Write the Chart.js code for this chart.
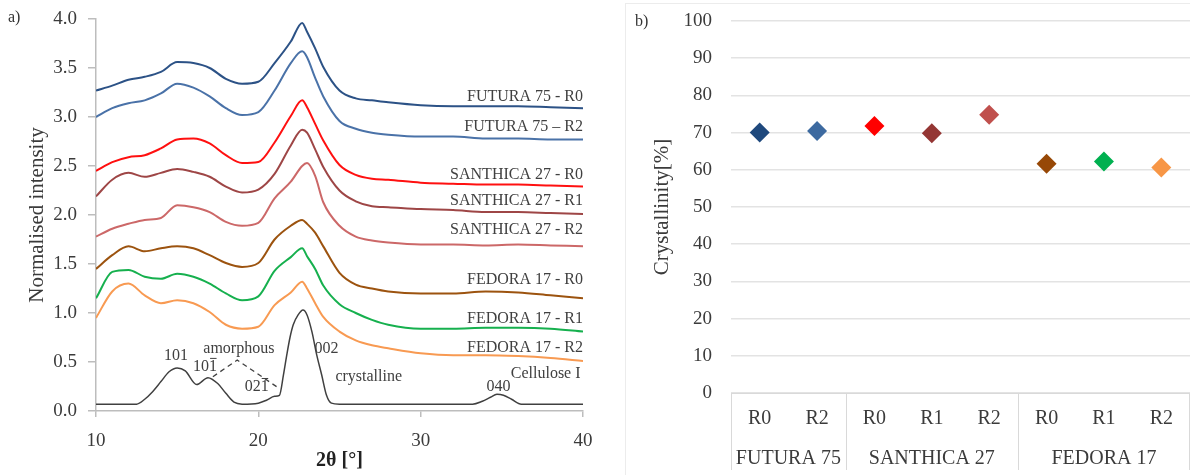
<!DOCTYPE html>
<html lang="en">
<head>
<meta charset="UTF-8">
<script src="https://cdn.jsdelivr.net/npm/chart.js"></script>
<title>XRD patterns and crystallinity</title>
<style>
    html, body { margin: 0; padding: 0; background: #fff; }
    .panel { position: absolute; top: 0; height: 475px; }
    #panelA { left: 0; width: 600px; }
    #panelB { left: 600px; width: 590px; }
    #frameB { position: absolute; left: 625px; top: 3px; width: 570px; height: 480px;
              border-left: 1px solid #ececec; border-top: 1px solid #ececec; }
    .tag { position: absolute; font-family: "Liberation Serif", serif; font-size: 16px; color: #333; }
</style>
</head>
<body>
<div id="frameB"></div>
<div class="panel" id="panelA"><canvas id="xrdChart" width="600" height="475"></canvas></div>
<div class="panel" id="panelB"><canvas id="crystChart" width="590" height="475"></canvas></div>
<div class="tag" style="left:8px; top:8px;">a)</div>
<div class="tag" style="left:635px; top:12px;">b)</div>
<script>
    // ---- a) XRD patterns (values read off the figure) ----
    const theta = [10, 11, 12, 13, 14, 15, 16, 17, 18, 19, 20, 21, 22, 22.7, 23, 23.5, 24, 25, 26, 27, 28, 30, 32, 34, 36, 38, 40];
    const futura75R0   = [3.27, 3.32, 3.38, 3.41, 3.46, 3.56, 3.55, 3.50, 3.39, 3.34, 3.36, 3.55, 3.77, 3.96, 3.87, 3.70, 3.51, 3.27, 3.19, 3.17, 3.15, 3.12, 3.11, 3.11, 3.11, 3.10, 3.09];
    const futura75R2   = [3.00, 3.09, 3.14, 3.17, 3.24, 3.34, 3.30, 3.21, 3.09, 3.02, 3.05, 3.27, 3.55, 3.67, 3.61, 3.40, 3.21, 2.96, 2.88, 2.84, 2.82, 2.80, 2.80, 2.78, 2.78, 2.77, 2.77];
    const santhica27R0 = [2.45, 2.54, 2.59, 2.61, 2.68, 2.77, 2.78, 2.73, 2.61, 2.53, 2.54, 2.74, 3.01, 3.17, 3.10, 2.93, 2.76, 2.51, 2.41, 2.37, 2.36, 2.33, 2.32, 2.31, 2.31, 2.30, 2.29];
    const santhica27R1 = [2.19, 2.36, 2.43, 2.39, 2.43, 2.47, 2.44, 2.39, 2.29, 2.23, 2.26, 2.42, 2.71, 2.87, 2.84, 2.67, 2.49, 2.25, 2.14, 2.09, 2.08, 2.06, 2.05, 2.03, 2.03, 2.02, 2.01];
    const santhica27R2 = [1.78, 1.86, 1.91, 1.95, 1.97, 2.10, 2.08, 2.03, 1.93, 1.89, 1.92, 2.17, 2.34, 2.50, 2.53, 2.40, 2.13, 1.89, 1.78, 1.74, 1.72, 1.70, 1.70, 1.69, 1.70, 1.69, 1.68];
    const fedora17R0   = [1.45, 1.59, 1.68, 1.63, 1.66, 1.68, 1.66, 1.59, 1.51, 1.47, 1.51, 1.75, 1.89, 1.95, 1.91, 1.82, 1.68, 1.41, 1.29, 1.25, 1.22, 1.20, 1.20, 1.22, 1.21, 1.18, 1.15];
    const fedora17R1   = [1.15, 1.42, 1.44, 1.37, 1.35, 1.40, 1.37, 1.30, 1.20, 1.13, 1.17, 1.43, 1.57, 1.66, 1.58, 1.45, 1.28, 1.09, 1.00, 0.93, 0.88, 0.84, 0.84, 0.85, 0.85, 0.84, 0.81];
    const fedora17R2   = [0.95, 1.22, 1.30, 1.18, 1.10, 1.13, 1.10, 1.01, 0.88, 0.84, 0.86, 1.08, 1.21, 1.32, 1.25, 1.10, 0.96, 0.81, 0.72, 0.67, 0.64, 0.59, 0.57, 0.57, 0.56, 0.54, 0.51];

    const celluloseTheta = [10, 12.5, 13, 13.5, 14, 14.5, 15, 15.5, 16.2, 16.9, 17.5, 18, 18.5, 19, 20, 20.5, 21, 21.3, 21.55, 21.75, 21.95, 22.15, 22.45, 22.75, 23.0, 23.3, 23.6, 23.9, 24.2, 24.5, 25, 33.2, 33.8, 34.3, 34.7, 35.1, 35.6, 36.2, 40];
    const celluloseI     = [0.07, 0.07, 0.12, 0.20, 0.30, 0.40, 0.44, 0.41, 0.27, 0.34, 0.28, 0.18, 0.09, 0.07, 0.08, 0.11, 0.15, 0.16, 0.37, 0.57, 0.75, 0.88, 0.98, 1.03, 0.98, 0.81, 0.57, 0.37, 0.16, 0.08, 0.07, 0.07, 0.10, 0.14, 0.17, 0.16, 0.12, 0.07, 0.07];
    const amorphousTheta = [17.2, 18.7, 21.2];
    const amorphousHalo  = [0.35, 0.52, 0.24];

    const seriesNames = ['FUTURA 75 - R0', 'FUTURA 75 \u2013 R2', 'SANTHICA 27 - R0', 'SANTHICA 27 - R1',
                         'SANTHICA 27 - R2', 'FEDORA 17 - R0', 'FEDORA 17 - R1', 'FEDORA 17 - R2'];

    // ---- b) crystallinity ----
    const samples = ['R0', 'R2', 'R0', 'R1', 'R2', 'R0', 'R1', 'R2'];
    const varieties = ['FUTURA 75', 'SANTHICA 27', 'FEDORA 17'];
    const samplesPerVariety = [2, 3, 3];
    const crystallinity = [70.0, 70.4, 71.8, 69.8, 74.8, 61.6, 62.2, 60.6];

    const serif = "'Liberation Serif', 'Times New Roman', serif";
    const textColor = '#3b3b3b';
    const curveColors = ['#2c5286', '#4a72a8', '#ff1010', '#9e4646', '#cc6868', '#9c530f', '#16b04e', '#f89a52'];
    const markerColors = ['#1f497d', '#3d6aa0', '#ff0000', '#943634', '#c0504d', '#974806', '#00b050', '#f79646'];

    const curves = [futura75R0, futura75R2, santhica27R0, santhica27R1, santhica27R2, fedora17R0, fedora17R1, fedora17R2];

    function points(xs, ys) {
        return xs.map((t, i) => ({x: t, y: ys[i]}));
    }

    const xrdDatasets = curves.map((c, i) => ({
        label: seriesNames[i],
        data: points(theta, c),
        borderColor: curveColors[i],
        borderWidth: 2,
        pointRadius: 0,
        cubicInterpolationMode: 'monotone'
    }));
    xrdDatasets.push({
        label: 'Cellulose I',
        data: points(celluloseTheta, celluloseI),
        borderColor: '#404040',
        borderWidth: 1.5,
        pointRadius: 0,
        cubicInterpolationMode: 'monotone'
    });
    xrdDatasets.push({
        label: 'amorphous',
        data: points(amorphousTheta, amorphousHalo),
        borderColor: '#404040',
        borderWidth: 1.3,
        borderDash: [5, 4],
        pointRadius: 0,
        tension: 0
    });

    // where the texts sit, in data units
    const seriesLabelAt = [3.21, 2.90, 2.41, 2.14, 1.85, 1.34, 0.94, 0.64];
    const peakNotes = [
        {text: '101', t: 14.93, v: 0.56},
        {text: '101', t: 16.72, v: 0.45, bar: true},
        {text: 'amorphous', t: 18.8, v: 0.63},
        {text: '021', t: 19.9, v: 0.245, bar: true},
        {text: '002', t: 24.2, v: 0.63},
        {text: 'crystalline', t: 26.8, v: 0.35},
        {text: 'Cellulose I', t: 37.7, v: 0.38},
        {text: '040', t: 34.8, v: 0.245}
    ];

    const xrdNotes = {
        id: 'xrdNotes',
        afterDatasetsDraw(chart) {
            const {ctx, scales: {x, y}} = chart;
            ctx.save();
            ctx.fillStyle = '#404040';
            ctx.strokeStyle = '#404040';
            ctx.font = '16px ' + serif;
            ctx.textBaseline = 'middle';
            ctx.textAlign = 'right';
            seriesNames.forEach((name, i) => {
                ctx.fillText(name, x.getPixelForValue(40), y.getPixelForValue(seriesLabelAt[i]));
            });
            ctx.textAlign = 'center';
            peakNotes.forEach(n => {
                const px = x.getPixelForValue(n.t), py = y.getPixelForValue(n.v);
                ctx.fillText(n.text, px, py);
                if (n.bar) {
                    const w = ctx.measureText(n.text).width;
                    const w1 = ctx.measureText('1').width;
                    ctx.lineWidth = 1;
                    ctx.beginPath();
                    ctx.moveTo(px + w / 2 - w1 + 1, py - 8.5);
                    ctx.lineTo(px + w / 2 - 0.5, py - 8.5);
                    ctx.stroke();
                }
            });
            ctx.restore();
        }
    };

    new Chart(document.getElementById('xrdChart'), {
        type: 'line',
        data: {datasets: xrdDatasets},
        options: {
            responsive: false,
            animation: false,
            layout: {autoPadding: false, padding: {top: 19, right: 17, left: 0, bottom: 0}},
            plugins: {legend: {display: false}, tooltip: {enabled: false}},
            scales: {
                x: {
                    type: 'linear', min: 10, max: 40,
                    afterFit(scale) { scale.height = 64; },
                    ticks: {stepSize: 10, color: textColor, font: {family: serif, size: 19, lineHeight: 1.79}, padding: 7},
                    grid: {drawOnChartArea: false, tickLength: 6, color: '#bdbdbd', lineWidth: 1.5},
                    border: {color: '#bdbdbd', width: 1.5},
                    title: {display: true, text: '2\u03b8 [\u00b0]', color: '#222',
                            font: {family: serif, size: 20, weight: 'bold'}, padding: {top: 0, bottom: 2}}
                },
                y: {
                    min: 0, max: 4,
                    afterFit(scale) { scale.width = 96; },
                    ticks: {stepSize: 0.5, color: textColor, font: {family: serif, size: 19, lineHeight: 0.8}, padding: 11,
                            callback: v => v.toFixed(1)},
                    grid: {drawOnChartArea: false, tickLength: 8, color: '#bdbdbd', lineWidth: 1.5},
                    border: {color: '#bdbdbd', width: 1.5},
                    title: {display: true, text: 'Normalised intensity', color: textColor,
                            font: {family: serif, size: 21}, padding: {top: 25, bottom: 0}}
                }
            }
        },
        plugins: [xrdNotes]
    });

    const varietyGroups = {
        id: 'varietyGroups',
        afterDraw(chart) {
            const {ctx, chartArea, scales: {x}} = chart;
            const half = (x.getPixelForValue(1) - x.getPixelForValue(0)) / 2;
            const top = chartArea.bottom, bottom = chartArea.bottom + 77;
            ctx.save();
            ctx.strokeStyle = '#d9d9d9';
            ctx.lineWidth = 1;
            ctx.fillStyle = textColor;
            ctx.font = '20px ' + serif;
            ctx.textAlign = 'center';
            ctx.textBaseline = 'middle';
            let start = 0;
            const edge = px => {
                const sx = Math.min(Math.round(px) + 0.5, chart.width - 0.5);
                ctx.beginPath();
                ctx.moveTo(sx, top);
                ctx.lineTo(sx, bottom);
                ctx.stroke();
            };
            edge(x.getPixelForValue(0) - half);
            varieties.forEach((name, g) => {
                const end = start + samplesPerVariety[g] - 1;
                const left = x.getPixelForValue(start) - half;
                const right = x.getPixelForValue(end) + half;
                edge(right);
                ctx.fillText(name, (left + right) / 2, chartArea.bottom + 66);
                start = end + 1;
            });
            ctx.restore();
        }
    };

    new Chart(document.getElementById('crystChart'), {
        type: 'line',
        data: {
            labels: samples,
            datasets: [{
                label: 'Crystallinity',
                data: crystallinity,
                showLine: false,
                pointStyle: 'rectRot',
                pointRadius: 10,
                pointBorderWidth: 0,
                pointBackgroundColor: markerColors,
                pointBorderColor: markerColors
            }]
        },
        options: {
            responsive: false,
            animation: false,
            layout: {autoPadding: false, padding: {top: 21, right: 0, left: 0, bottom: 0}},
            plugins: {legend: {display: false}, tooltip: {enabled: false}},
            scales: {
                x: {
                    offset: true,
                    afterFit(scale) { scale.height = 82; },
                    ticks: {color: textColor, font: {family: serif, size: 20}, padding: 6},
                    grid: {display: false},
                    border: {display: true, color: '#d9d9d9', width: 1}
                },
                y: {
                    min: 0, max: 100,
                    afterFit(scale) { scale.width = 131; },
                    ticks: {stepSize: 10, color: textColor, font: {family: serif, size: 19}, padding: 0},
                    grid: {color: '#e3e3e3', lineWidth: 1.5, tickLength: 19, tickColor: 'rgba(0,0,0,0)'},
                    border: {display: false},
                    title: {display: true, text: 'Crystallinity[%]', color: textColor,
                            font: {family: serif, size: 21}, padding: {top: 50, bottom: 0}}
                }
            }
        },
        plugins: [varietyGroups]
    });
</script>
</body>
</html>
